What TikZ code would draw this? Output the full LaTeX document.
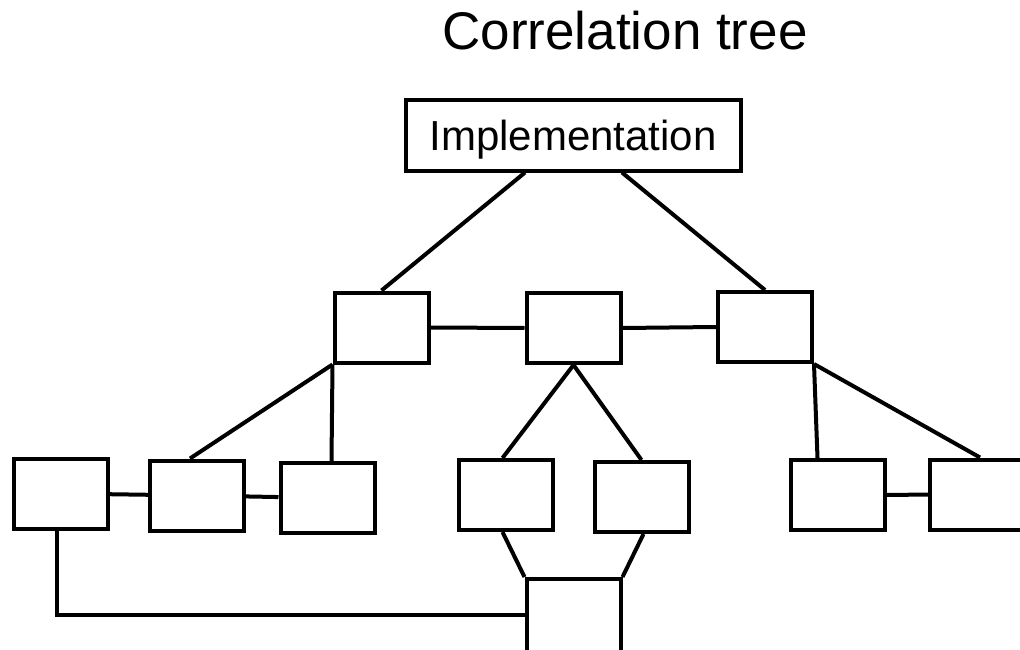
\documentclass[tikz,border=0pt]{standalone}
\usepackage{fontspec}
\setmainfont{Liberation Sans}
\usetikzlibrary{positioning}

\begin{document}
\begin{tikzpicture}[
  x=1pt, y=-1pt,
  box/.style={draw, line width=4pt, minimum width=94pt, minimum height=70pt, inner sep=0pt},
  link/.style={line width=4pt},
  title/.style={font=\fontsize{53}{60}\selectfont, anchor=base}
]
\useasboundingbox (0,0) rectangle (1020,650);
\node[title] (ttl) at (625,50) {Correlation tree};
\node[box, minimum width=335pt, text depth=0pt, font=\fontsize{42}{50}\selectfont]
  (impl) at (573,135.5) {Implementation};
\node[box] (m1) at (381.5,327.5) {};
\node[box] (m2) at (573.5,328)   {};
\node[box] (m3) at (765,327)     {};
\node[box] (b1) at (61,493.5)    {};
\node[box] (b2) at (197,495.5)   {};
\node[box] (b3) at (327.5,498)   {};
\node[box] (b4) at (505.5,495)   {};
\node[box] (b5) at (641.5,497)   {};
\node[box] (b6) at (837.5,495)   {};
\node[box] (b7) at (977,494.5)   {};
\node[box, minimum height=84pt] (bt) at (573.5,621) {};
\draw[link] ([xshift=-48pt]impl.south) -- (m1.north);
\draw[link] ([xshift=49pt]impl.south)  -- (m3.north);
\draw[link] (m1.east) -- (m2.west);
\draw[link] (m2.east) -- (m3.west);
\draw[link] (m1.south west) -- ([xshift=-7pt]b2.north);
\draw[link] (m1.south west) -- ([xshift=4pt]b3.north);
\draw[link] (m2.south) -- ([xshift=-3pt]b4.north);
\draw[link] (m2.south) -- (b5.north);
\draw[link] (m3.south east) -- ([xshift=-20pt]b6.north);
\draw[link] (m3.south east) -- ([xshift=3pt]b7.north);
\draw[link] (b1) -- (b2);
\draw[link] (b2) -- (b3);
\draw[link] (b6) -- (b7);
\draw[link] ([xshift=-3pt]b4.south) -- (bt.north west);
\draw[link] ([xshift=2pt]b5.south)  -- (bt.north east);
\draw[link] ([xshift=-4pt]b1.south) |- ([yshift=6pt]bt.west);
\end{tikzpicture}
\end{document}
